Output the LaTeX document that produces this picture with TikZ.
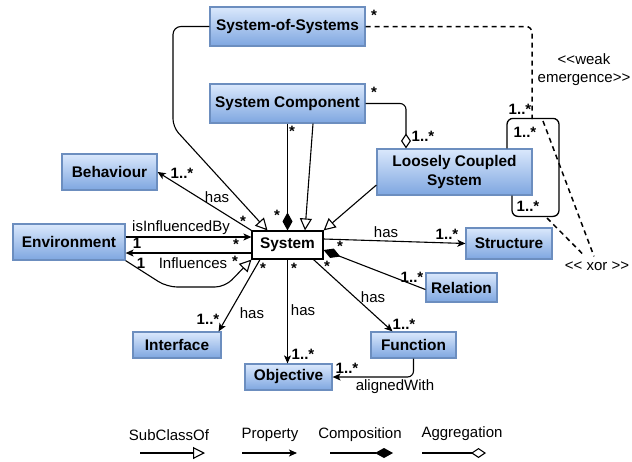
\documentclass[tikz,border=0pt]{standalone}
\usepackage{fontspec}
\setmainfont{Liberation Sans}[Ligatures=TeXOff]
\usetikzlibrary{arrows.meta,calc}
\definecolor{boxtop}{HTML}{DAE8FC}
\definecolor{boxbot}{HTML}{7EA6E0}
\definecolor{boxline}{HTML}{6C8EBF}
\begin{document}
\begin{tikzpicture}[x=1pt,y=-1pt,
  every node/.style={inner sep=0pt},
  cls/.style={draw=boxline, line width=1.2pt, top color=boxtop, bottom color=boxbot, font=\fontsize{15.4}{19}\selectfont\bfseries, align=center},
  sysbox/.style={draw=black, line width=1.1pt, fill=white, font=\fontsize{15.4}{19}\selectfont\bfseries},
  con/.style={line width=1.1pt, draw=black},
  dsh/.style={con, line width=1.5pt, dash pattern=on 5pt off 4pt},
  sub/.style={con, -{Triangle[open,length=12pt,width=12pt]}},
  prop/.style={con, -{Stealth[length=8pt,width=7pt,inset=2pt]}},
  comp/.style={con, -{Diamond[length=18pt,width=10pt]}},
  aggr/.style={con, -{Diamond[open,length=15pt,width=10pt]}},
  mult/.style={font=\fontsize{15}{18}\selectfont\bfseries},
  lbl/.style={font=\fontsize{15}{18}\selectfont, align=center},
]
\useasboundingbox (0,0) rectangle (632,461);
% classes
\node[cls, minimum width=155pt, minimum height=39pt] (sos) at (287.5,26.5) {System-of-Systems};
\node[cls, minimum width=155pt, minimum height=39pt] (sc) at (287.5,103.5) {System Component};
\node[cls, minimum width=95pt, minimum height=36pt] (beh) at (109.5,172) {Behaviour};
\node[cls, minimum width=155pt, minimum height=46pt] (lcs) at (454.5,172) {Loosely Coupled\\System};
\node[cls, minimum width=112pt, minimum height=36pt] (env) at (69,242) {Environment};
\node[sysbox, minimum width=71pt, minimum height=28pt] (sys) at (287.5,245) {System};
\node[cls, minimum width=86pt, minimum height=31pt] (str) at (509,243.5) {Structure};
\node[cls, minimum width=71pt, minimum height=29pt] (rel) at (461.5,287.5) {Relation};
\node[cls, minimum width=88pt, minimum height=26pt] (intf) at (177,345) {Interface};
\node[cls, minimum width=85pt, minimum height=26pt] (fun) at (413.5,345) {Function};
\node[cls, minimum width=87pt, minimum height=26pt] (obj) at (288.5,377) {Objective};
% connectors
\coordinate (sosbend) at (173,127);
\draw[sub, rounded corners=8pt] (sos.west) -| (sosbend) -- ([xshift=-20pt]sys.north);
\draw[comp] (sc.south) -- (sys.north);
\draw[sub] ([xshift=25.5pt]sc.south) -- ([xshift=17.5pt]sys.north);
\draw[sub] ([yshift=-13pt]lcs.west) -- (sys.north east);
\draw[aggr, rounded corners=6pt] (sc.east) -| ([xshift=-48.5pt]lcs.north);
\draw[prop] (sys.north west) -- (beh.east);
\draw[prop] ([yshift=5pt]env.east) -- ([yshift=8pt]sys.west);
\draw[prop] ([yshift=-8pt]sys.west) -- ([yshift=-11pt]env.east);
\coordinate (envb1) at (167,287);
\coordinate (envb2) at (225,287);
\draw[sub, rounded corners=10pt] (env.south east) -- (envb1) -- (envb2) -- (sys.south west);
\draw[prop] ([xshift=-27.5pt]sys.south) -- ([xshift=-3pt]intf.north east);
\draw[prop] (sys.south) -- (sys.south |- obj.north);
\draw[prop] ([yshift=6pt]sys.east) -- (str.west);
\draw[comp] ([yshift=-2pt]rel.west) -- ([yshift=-5pt]sys.east);
\draw[prop] ([xshift=26pt]sys.south) -- ([xshift=-21pt]fun.north);
\draw[prop, rounded corners=6pt] (fun.south) |- (obj.east);
% self loop on loosely coupled system
\coordinate (looptop) at (532,119);
\draw[con, line width=1.3pt, rounded corners=6pt] ([xshift=52.5pt]lcs.north) -- ++(0,-30) -- ++(52,0) -- ++(0,98) -- ++(-47,0) -- ([xshift=57.5pt]lcs.south);
\draw[dsh, rounded corners=6pt] (sos.east) -| (looptop);
% xor
\node[lbl] (xor) at (597,266) {<< xor >>};
\coordinate (xa) at (543,121);
\coordinate (xb) at (547,218);
\draw[dsh] (xa) -- ([xshift=-3pt,yshift=5pt]xor.north);
\draw[dsh] (xb) -- ([xshift=-12pt,yshift=5pt]xor.north);
\node[lbl] (weak) at (584,69.5) {<<weak\\emergence>>};
% multiplicities and labels
\node[mult] (m1) at (374,15) {*};
\node[mult] (m2) at (374,92) {*};
\node[mult] (m3) at (423,136) {1..*};
\node[mult] (m4) at (292,131) {*};
\node[mult] (m5) at (277,215) {*};
\node[mult] (m6) at (182,173) {1..*};
\node[lbl] (h1) at (217,197) {has};
\node[mult] (m7) at (243,221) {*};
\node[lbl] (l1) at (181,228) {isInfluencedBy};
\node[mult] (m8) at (137,243) {1};
\node[mult] (m9) at (236,244) {*};
\node[mult] (m10) at (141,263) {1};
\node[lbl] (l2) at (193,263) {Influences};
\node[mult] (m11) at (235,261) {*};
\node[mult] (m12) at (263,268) {*};
\node[lbl] (h2) at (252,313) {has};
\node[mult] (m13) at (208,319) {1..*};
\node[mult] (m14) at (294,268) {*};
\node[lbl] (h3) at (303,310) {has};
\node[mult] (m15) at (303,354) {1..*};
\node[lbl] (h4) at (386,232) {has};
\node[mult] (m16) at (447,234) {1..*};
\node[mult] (m17) at (340,246) {*};
\node[mult] (m18) at (412,277) {1..*};
\node[mult] (m19) at (327,266) {*};
\node[lbl] (h5) at (373,297) {has};
\node[mult] (m20) at (404,324) {1..*};
\node[mult] (m21) at (347,368) {1..*};
\node[lbl] (l3) at (395,387) {alignedWith};
\node[mult] (m22) at (520,109) {1..*};
\node[mult] (m23) at (525,132) {1..*};
\node[mult] (m24) at (528,206) {1..*};
% legend
\node[lbl] (lg1) at (169,435) {SubClassOf};
\node[lbl] (lg2) at (270,435) {Property};
\node[lbl] (lg3) at (360,435) {Composition};
\node[lbl] (lg4) at (462,434) {Aggregation};
\coordinate (lg1a) at (140,453); \coordinate (lg1b) at (205,453);
\coordinate (lg2a) at (242,453); \coordinate (lg2b) at (297,453);
\coordinate (lg3a) at (330,453); \coordinate (lg3b) at (393,453);
\coordinate (lg4a) at (422,453); \coordinate (lg4b) at (486,453);
\draw[sub] (lg1a) -- (lg1b);
\draw[prop] (lg2a) -- (lg2b);
\draw[comp] (lg3a) -- (lg3b);
\draw[aggr] (lg4a) -- (lg4b);
\end{tikzpicture}
\end{document}
